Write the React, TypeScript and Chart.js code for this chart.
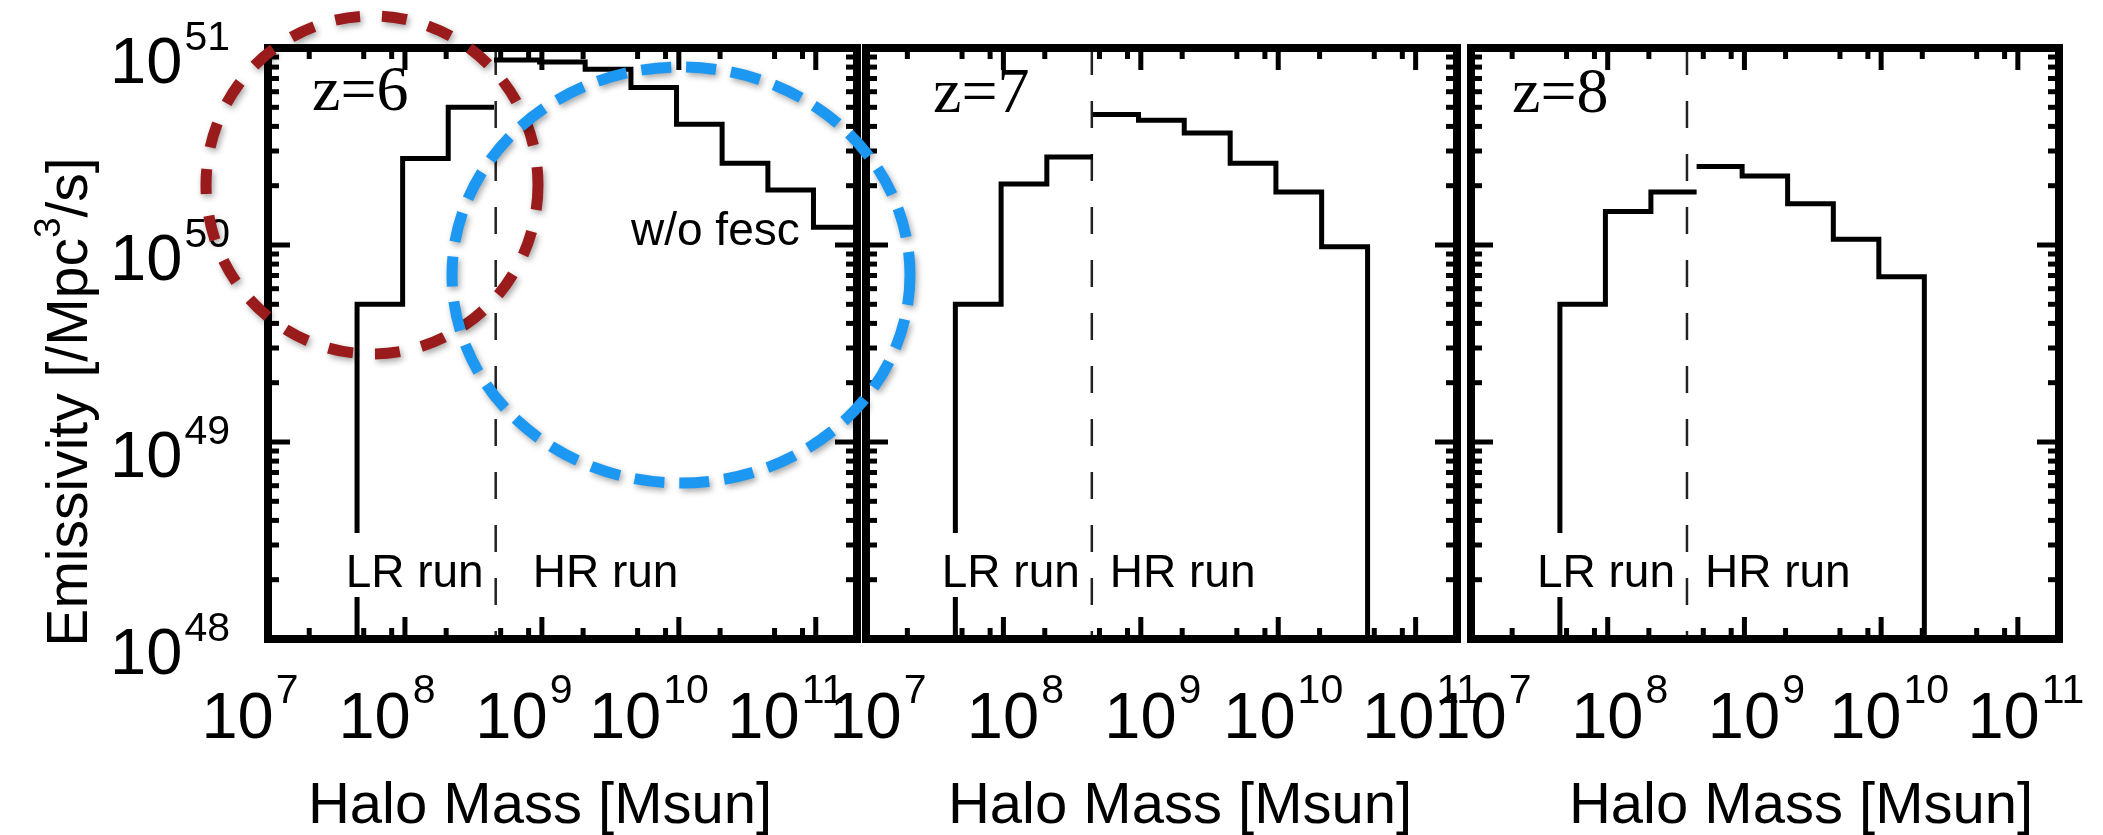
import React, { useEffect, useRef } from "react";
import { Chart, registerables } from "chart.js";

Chart.register(...registerables);

const W = 2103;
const H = 835;

// ---------------- data ----------------
// halo-mass bin edges [Msun] (1/3 dex bins)
const lrEdges = [4.47e7, 9.62e7, 2.07e8, 4.47e8];
const hrEdges = [4.47e8, 9.62e8, 2.07e9, 4.47e9, 9.62e9, 2.07e10, 4.47e10, 9.62e10, 2.07e11];

// emissivity per bin [/Mpc^3/s]
const z6LR = [5.0e49, 2.75e50, 5.0e50];
const z6HR = [8.7e50, 8.5e50, 7.8e50, 6.3e50, 4.1e50, 2.6e50, 1.9e50, 1.23e50];
const z7LR = [5.0e49, 2.04e50, 2.8e50];
const z7HR = [4.6e50, 4.3e50, 3.7e50, 2.6e50, 1.86e50, 9.8e49];
const z8LR = [5.0e49, 1.48e50, 1.86e50];
const z8HR = [2.5e50, 2.24e50, 1.62e50, 1.07e50, 6.9e49];

// LR / HR split (resolution limit) per panel [Msun]
const resolutionLimit = [4.6e8, 4.4e8, 3.8e8];
const redshiftLabels = ["z=6", "z=7", "z=8"];

const xTickExponents = [7, 8, 9, 10, 11];
const yTickExponents = [48, 49, 50, 51];
const xMinorMultipliers = [2, 5, 8];
const yMinorMultipliers = [2, 3, 4, 5, 6, 7, 8, 9];
const X_MIN = 1e7;
const X_MAX = 2e11;
const Y_MIN = 1e48;
const Y_MAX = 1e51;

const lrSeries = [z6LR, z7LR, z8LR];
const hrSeries = [z6HR, z7HR, z8HR];

// ---------------- layout / style ----------------
const panelBoxes = [
  { left: 268, right: 857, top: 48, bottom: 639 },
  { left: 866, right: 1457, top: 48, bottom: 639 },
  { left: 1471, right: 2059, top: 48, bottom: 639 },
];
const panelText = [
  { zX: 312, zY: 110, hrGap: 37, xLabelShift: -18, xLabelShift2: -30, titleX: 540 },
  { zX: 933, zY: 112, hrGap: 18, xLabelShift: 12, xLabelShift2: 5, titleX: 1180 },
  { zX: 1512, zY: 112, hrGap: 18, xLabelShift: 12, xLabelShift2: 8, titleX: 1801 },
];
const SANS = "'Liberation Sans', Arial, Helvetica, sans-serif";
const SERIF = "'Liberation Serif', 'Times New Roman', serif";

type Pt = { x: number; y: number };

function stepPoints(edges: number[], values: number[], dropStart: boolean, dropEnd: boolean): Pt[] {
  const pts: Pt[] = [];
  if (dropStart) pts.push({ x: edges[0], y: Y_MIN });
  for (let i = 0; i < values.length; i++) pts.push({ x: edges[i], y: values[i] });
  const last = edges[values.length];
  pts.push({ x: last, y: values[values.length - 1] });
  if (dropEnd && last < X_MAX) pts.push({ x: last, y: Y_MIN });
  return pts;
}

function drawText(
  ctx: CanvasRenderingContext2D,
  text: string,
  x: number,
  y: number,
  font: string,
  align: "left" | "center" | "right",
  sx = 1
): number {
  ctx.save();
  ctx.font = font;
  ctx.textAlign = "left";
  ctx.textBaseline = "alphabetic";
  const w = ctx.measureText(text).width * sx;
  const left = align === "center" ? x - w / 2 : align === "right" ? x - w : x;
  ctx.translate(left, y);
  ctx.scale(sx, 1);
  ctx.fillText(text, 0, 0);
  ctx.restore();
  return w;
}

function textWidth(ctx: CanvasRenderingContext2D, text: string, font: string, sx = 1) {
  ctx.save();
  ctx.font = font;
  const w = ctx.measureText(text).width * sx;
  ctx.restore();
  return w;
}

function line(ctx: CanvasRenderingContext2D, x1: number, y1: number, x2: number, y2: number) {
  ctx.beginPath();
  ctx.moveTo(x1, y1);
  ctx.lineTo(x2, y2);
  ctx.stroke();
}

function makeDecor(idx: number) {
  return {
    id: "decor" + idx,
    afterDatasetsDraw(chart: any) {
      const ctx: CanvasRenderingContext2D = chart.ctx;
      const { left, right, top, bottom } = chart.chartArea;
      const xs = chart.scales.x;
      const ys = chart.scales.y;
      const pt = panelText[idx];
      ctx.save();
      ctx.fillStyle = "#000";

      // LR / HR labels
      const runFont = `46px ${SANS}`;
      const limPx = xs.getPixelForValue(resolutionLimit[idx]);
      const lrW = textWidth(ctx, "LR run", runFont);
      const lrLeft = limPx - 12 - lrW;
      ctx.fillStyle = "#fff";
      ctx.fillRect(lrLeft - 8, 533, lrW + 14, 64);
      ctx.fillStyle = "#000";
      drawText(ctx, "LR run", lrLeft, 587, runFont, "left");
      drawText(ctx, "HR run", limPx + pt.hrGap, 587, runFont, "left");
      if (idx === 0) drawText(ctx, "w/o fesc", 631, 245, runFont, "left");

      // redshift label
      drawText(ctx, redshiftLabels[idx], pt.zX, pt.zY, `64px ${SERIF}`, "left");

      // ticks
      ctx.strokeStyle = "#000";
      ctx.lineWidth = 5;
      ctx.lineCap = "butt";
      for (let e = 7; e <= 11; e++) {
        const mults = [1, ...xMinorMultipliers];
        for (const m of mults) {
          const v = m * Math.pow(10, e);
          if (v > X_MAX) continue;
          const px = xs.getPixelForValue(v);
          const len = m === 1 ? 22 : 11;
          line(ctx, px, bottom, px, bottom - len);
          line(ctx, px, top, px, top + len);
        }
      }
      for (let e = 48; e <= 51; e++) {
        const mults = e === 51 ? [1] : [1, ...yMinorMultipliers];
        for (const m of mults) {
          const py = ys.getPixelForValue(m * Math.pow(10, e));
          const len = m === 1 ? 22 : 11;
          line(ctx, left, py, left + len, py);
          line(ctx, right, py, right - len, py);
        }
      }

      // frame
      ctx.lineWidth = 8;
      ctx.lineJoin = "miter";
      ctx.strokeRect(left, top, right - left, bottom - top);

      // x tick labels
      const baseFont = `65px ${SANS}`;
      const supFont = `41px ${SANS}`;
      for (const e of xTickExponents) {
        const px = xs.getPixelForValue(Math.pow(10, e));
        const sup = String(e);
        const wb = textWidth(ctx, "10", baseFont);
        const ws = textWidth(ctx, sup, supFont);
        const total = wb + 2 + ws;
        const shift = sup.length > 1 ? pt.xLabelShift2 : pt.xLabelShift;
        const x0 = px + shift - total / 2;
        drawText(ctx, "10", x0, 738, baseFont, "left");
        drawText(ctx, sup, x0 + wb + 2, 703, supFont, "left");
      }

      // y tick labels (first panel only)
      if (idx === 0) {
        for (const e of yTickExponents) {
          const py = ys.getPixelForValue(Math.pow(10, e));
          const sup = String(e);
          const ws = textWidth(ctx, sup, supFont);
          const rightEdge = left - 38;
          drawText(ctx, sup, rightEdge - ws, py + 2, supFont, "left");
          drawText(ctx, "10", rightEdge - ws - 2, py + 35, baseFont, "right");
        }
        // y title (rotated)
        ctx.save();
        ctx.translate(87, 402);
        ctx.rotate(-Math.PI / 2);
        const tFont = `57px ${SANS}`;
        const tSup = `37px ${SANS}`;
        const a = "Emissivity [/Mpc";
        const b = "3";
        const c = "/s]";
        const wa = textWidth(ctx, a, tFont);
        const wbb = textWidth(ctx, b, tSup);
        const wc = textWidth(ctx, c, tFont);
        const tot = wa + wbb + wc;
        let x = -tot / 2;
        drawText(ctx, a, x, 0, tFont, "left");
        x += wa;
        drawText(ctx, b, x, -27, tSup, "left");
        x += wbb;
        drawText(ctx, c, x, 0, tFont, "left");
        ctx.restore();
      }

      // x title
      drawText(ctx, "Halo Mass [Msun]", pt.titleX, 823, `58px ${SANS}`, "center");
      ctx.restore();
    },
  };
}

function makePanel(canvas: HTMLCanvasElement, idx: number) {
  const box = panelBoxes[idx];
  const lr = stepPoints(lrEdges, lrSeries[idx], true, false);
  const hr = stepPoints(hrEdges, hrSeries[idx], false, true);
  const lim = resolutionLimit[idx];
  return new Chart(canvas, {
    type: "line",
    data: {
      datasets: [
        {
          data: lr,
          borderColor: "#000",
          borderWidth: 5,
          stepped: true,
          pointRadius: 0,
          fill: false,
          borderJoinStyle: "miter",
        },
        {
          data: hr,
          borderColor: "#000",
          borderWidth: 5,
          stepped: true,
          pointRadius: 0,
          fill: false,
          borderJoinStyle: "miter",
        },
        {
          data: [
            { x: lim, y: Y_MAX },
            { x: lim, y: Y_MIN },
          ],
          borderColor: "#222",
          borderWidth: 2.5,
          borderDash: [27, 26],
          pointRadius: 0,
          fill: false,
        },
      ],
    } as any,
    options: {
      responsive: false,
      animation: false,
      devicePixelRatio: 1,
      events: [],
      layout: {
        padding: { left: box.left, right: W - box.right, top: box.top, bottom: H - box.bottom },
      },
      scales: {
        x: { type: "logarithmic", min: X_MIN, max: X_MAX, display: false },
        y: { type: "logarithmic", min: Y_MIN, max: Y_MAX, display: false },
      },
      plugins: { legend: { display: false }, tooltip: { enabled: false } },
    } as any,
    plugins: [makeDecor(idx)],
  });
}

function drawOverlay(canvas: HTMLCanvasElement) {
  const ctx = canvas.getContext("2d")!;
  ctx.clearRect(0, 0, W, H);
  const ell = (cx: number, cy: number, rx: number, ry: number, color: string, dash: number[]) => {
    ctx.save();
    ctx.strokeStyle = color;
    ctx.lineWidth = 11;
    ctx.setLineDash(dash);
    ctx.shadowColor = "rgba(0,0,0,0.35)";
    ctx.shadowBlur = 6;
    ctx.shadowOffsetX = 2;
    ctx.shadowOffsetY = 3;
    ctx.beginPath();
    ctx.ellipse(cx, cy, rx, ry, 0, 0, Math.PI * 2);
    ctx.stroke();
    ctx.restore();
  };
  ell(372, 185, 166, 169, "#9a1b1b", [25, 22]);
  ell(681, 275, 229, 208, "#1c98f2", [30, 15]);
}

export default function App() {
  const r0 = useRef<HTMLCanvasElement>(null);
  const r1 = useRef<HTMLCanvasElement>(null);
  const r2 = useRef<HTMLCanvasElement>(null);
  const ov = useRef<HTMLCanvasElement>(null);
  useEffect(() => {
    const refs = [r0, r1, r2];
    const charts = refs.map((r, i) => makePanel(r.current as HTMLCanvasElement, i));
    if (ov.current) drawOverlay(ov.current);
    return () => charts.forEach((c) => c.destroy());
  }, []);
  const cs: React.CSSProperties = { position: "absolute", left: 0, top: 0, width: W, height: H };
  return (
    <div style={{ position: "fixed", left: 0, top: 0, width: W, height: H, background: "#fff", overflow: "hidden" }}>
      <canvas ref={r0} width={W} height={H} style={cs} />
      <canvas ref={r1} width={W} height={H} style={cs} />
      <canvas ref={r2} width={W} height={H} style={cs} />
      <canvas ref={ov} width={W} height={H} style={cs} />
    </div>
  );
}
